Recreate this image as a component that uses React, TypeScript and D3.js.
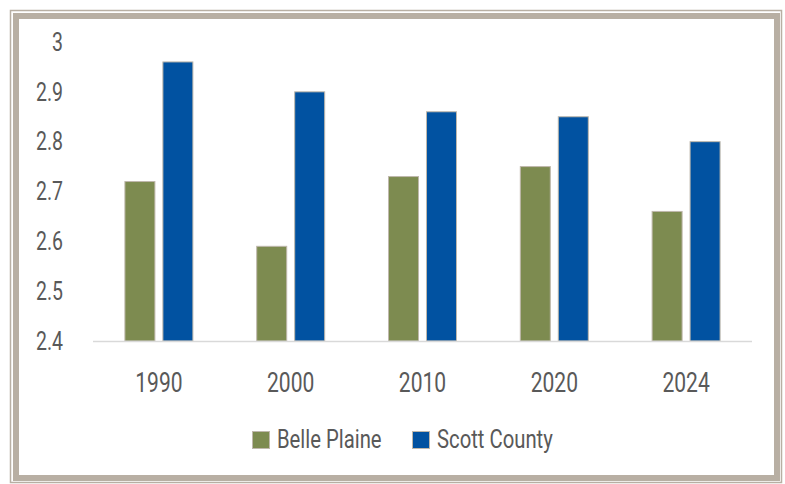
import React from "react";
import * as d3 from "d3";

const categories = ["1990", "2000", "2010", "2020", "2024"];
const seriesNames = ["Belle Plaine", "Scott County"];
const bellePlaine = [2.72, 2.59, 2.73, 2.75, 2.66];
const scottCounty = [2.96, 2.9, 2.86, 2.85, 2.8];
const yTicks = [2.4, 2.5, 2.6, 2.7, 2.8, 2.9, 3];
const colors = ["#7d8b50", "#0152a1"];

const W = 785;
const H = 484;
const FONT = "Roboto, 'Noto Sans', sans-serif";
const SX = 0.78;
const TEXT = "#595959";
const FRAME = "#b8afa3";

export default function App() {
  const x0 = d3.scaleBand<string>().domain(categories).range([93, 752]).paddingInner(0).paddingOuter(0);
  const x1 = d3.scaleBand<string>().domain(seriesNames).range([0, x0.bandwidth()]).paddingInner(0.21).paddingOuter(0.84);
  const y = d3.scaleLinear().domain([2.4, 3]).range([341, 42]);
  const series = [bellePlaine, scottCounty];

  return (
    <svg width={W} height={H} style={{ position: "absolute", left: 0, top: 0 }}>
      <rect x={0} y={0} width={W} height={H} fill="#ffffff" />
      <rect x={10.5} y={10.5} width={771} height={472} fill="none" stroke={FRAME} strokeWidth={1.5} />
      <rect x={16} y={16} width={761} height={462} fill="#ffffff" stroke={FRAME} strokeWidth={6} />
      {yTicks.map((t) => (
        <text key={t} transform={`translate(63,${y(t)}) scale(${SX},1)`} dy="0.35em" textAnchor="end" fontFamily={FONT} fontSize={25} fill={TEXT}>
          {d3.format("")(t)}
        </text>
      ))}
      {categories.map((c, i) => (
        <g key={c}>
          {series.map((s, j) => (
            <rect
              key={j}
              x={(x0(c) ?? 0) + (x1(seriesNames[j]) ?? 0)}
              y={y(s[i])}
              width={x1.bandwidth()}
              height={y(2.4) - y(s[i])}
              fill={colors[j]}
              stroke="#bfb8ac"
              strokeWidth={1}
            />
          ))}
          <text transform={`translate(${(x0(c) ?? 0) + x0.bandwidth() / 2},392) scale(${SX},1)`} textAnchor="middle" fontFamily={FONT} fontSize={27} fill={TEXT}>
            {c}
          </text>
        </g>
      ))}
      <line x1={93} x2={752} y1={341.5} y2={341.5} stroke="#d9d9d9" strokeWidth={1.5} />
      {seriesNames.map((n, j) => (
        <g key={n} transform={`translate(${j === 0 ? 252 : 412},431)`}>
          <rect x={0.5} y={0.5} width={17} height={17} fill={colors[j]} stroke="#bfb8ac" strokeWidth={1} />
          <text transform={`translate(25,17) scale(${SX},1)`} fontFamily={FONT} fontSize={26} fill={TEXT}>
            {n}
          </text>
        </g>
      ))}
    </svg>
  );
}
